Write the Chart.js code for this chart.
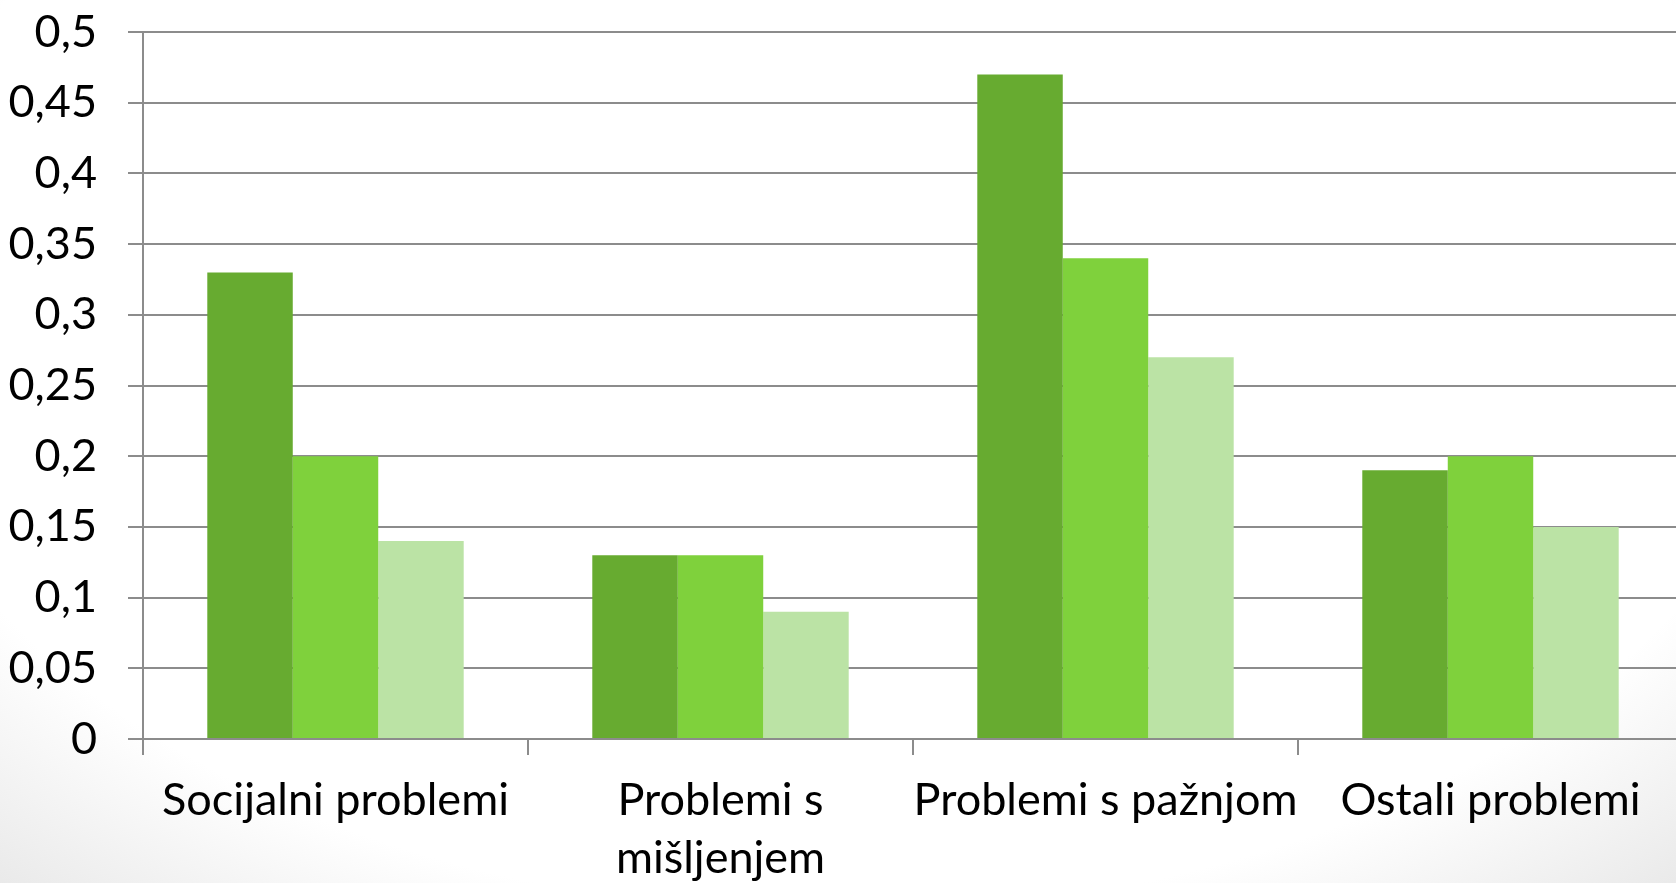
<!DOCTYPE html>
<html>
<head>
<meta charset="utf-8">
<script src="https://cdn.jsdelivr.net/npm/chart.js@4"></script>
<style>
    html, body {
        margin: 0;
        padding: 0;
        width: 1676px;
        height: 883px;
        overflow: hidden;
        background: radial-gradient(ellipse 80% 95% at 50% 35%, #ffffff 72%, #e2e2e2 100%);
    }
    #wrap {
        position: relative;
        width: 1700px;
        height: 883px;
    }
</style>
</head>
<body>
<div id="wrap"><canvas id="problemChart"></canvas></div>
<script>
const categories = ["Socijalni problemi", ["Problemi s", "mišljenjem"], "Problemi s pažnjom", "Ostali problemi"];
const series1 = [0.33, 0.13, 0.47, 0.19];
const series2 = [0.20, 0.13, 0.34, 0.20];
const series3 = [0.14, 0.09, 0.27, 0.15];

const gridGray = "#8c8c8c";
const labelFont = { family: "Lato", size: 45, lineHeight: 1.3 };

new Chart(document.getElementById("problemChart"), {
    type: "bar",
    data: {
        labels: categories,
        datasets: [
            { label: "1", data: series1, backgroundColor: "#67ab30" },
            { label: "2", data: series2, backgroundColor: "#7fd13c" },
            { label: "3", data: series3, backgroundColor: "#bbe3a5" }
        ]
    },
    options: {
        responsive: true,
        maintainAspectRatio: false,
        animation: false,
        layout: {
            padding: { top: 32, right: 17, bottom: 0, left: 0 }
        },
        plugins: {
            legend: { display: false },
            tooltip: { enabled: false }
        },
        datasets: {
            bar: {
                categoryPercentage: 0.666,
                barPercentage: 1.0
            }
        },
        scales: {
            x: {
                grid: {
                    drawOnChartArea: false,
                    drawTicks: true,
                    tickLength: 16,
                    color: gridGray,
                    lineWidth: 2
                },
                border: { display: false },
                ticks: {
                    color: "#000",
                    padding: 16,
                    maxRotation: 0,
                    autoSkip: false,
                    font: labelFont
                },
                afterFit: function (scale) {
                    scale.height = 144;
                    scale.paddingLeft = 0;
                    scale.paddingRight = 0;
                }
            },
            y: {
                min: 0,
                max: 0.5,
                grid: {
                    color: gridGray,
                    lineWidth: 2,
                    drawTicks: true,
                    tickLength: 15
                },
                border: { display: true, color: gridGray, width: 2 },
                ticks: {
                    stepSize: 0.05,
                    color: "#000",
                    padding: 31,
                    font: { family: "Lato", size: 45 },
                    callback: function (value) {
                        return (Math.round(value * 100) / 100).toString().replace(".", ",");
                    }
                },
                afterFit: function (scale) {
                    scale.width = 143;
                    scale.paddingTop = 0;
                    scale.paddingBottom = 0;
                }
            }
        }
    }
});
</script>
</body>
</html>
